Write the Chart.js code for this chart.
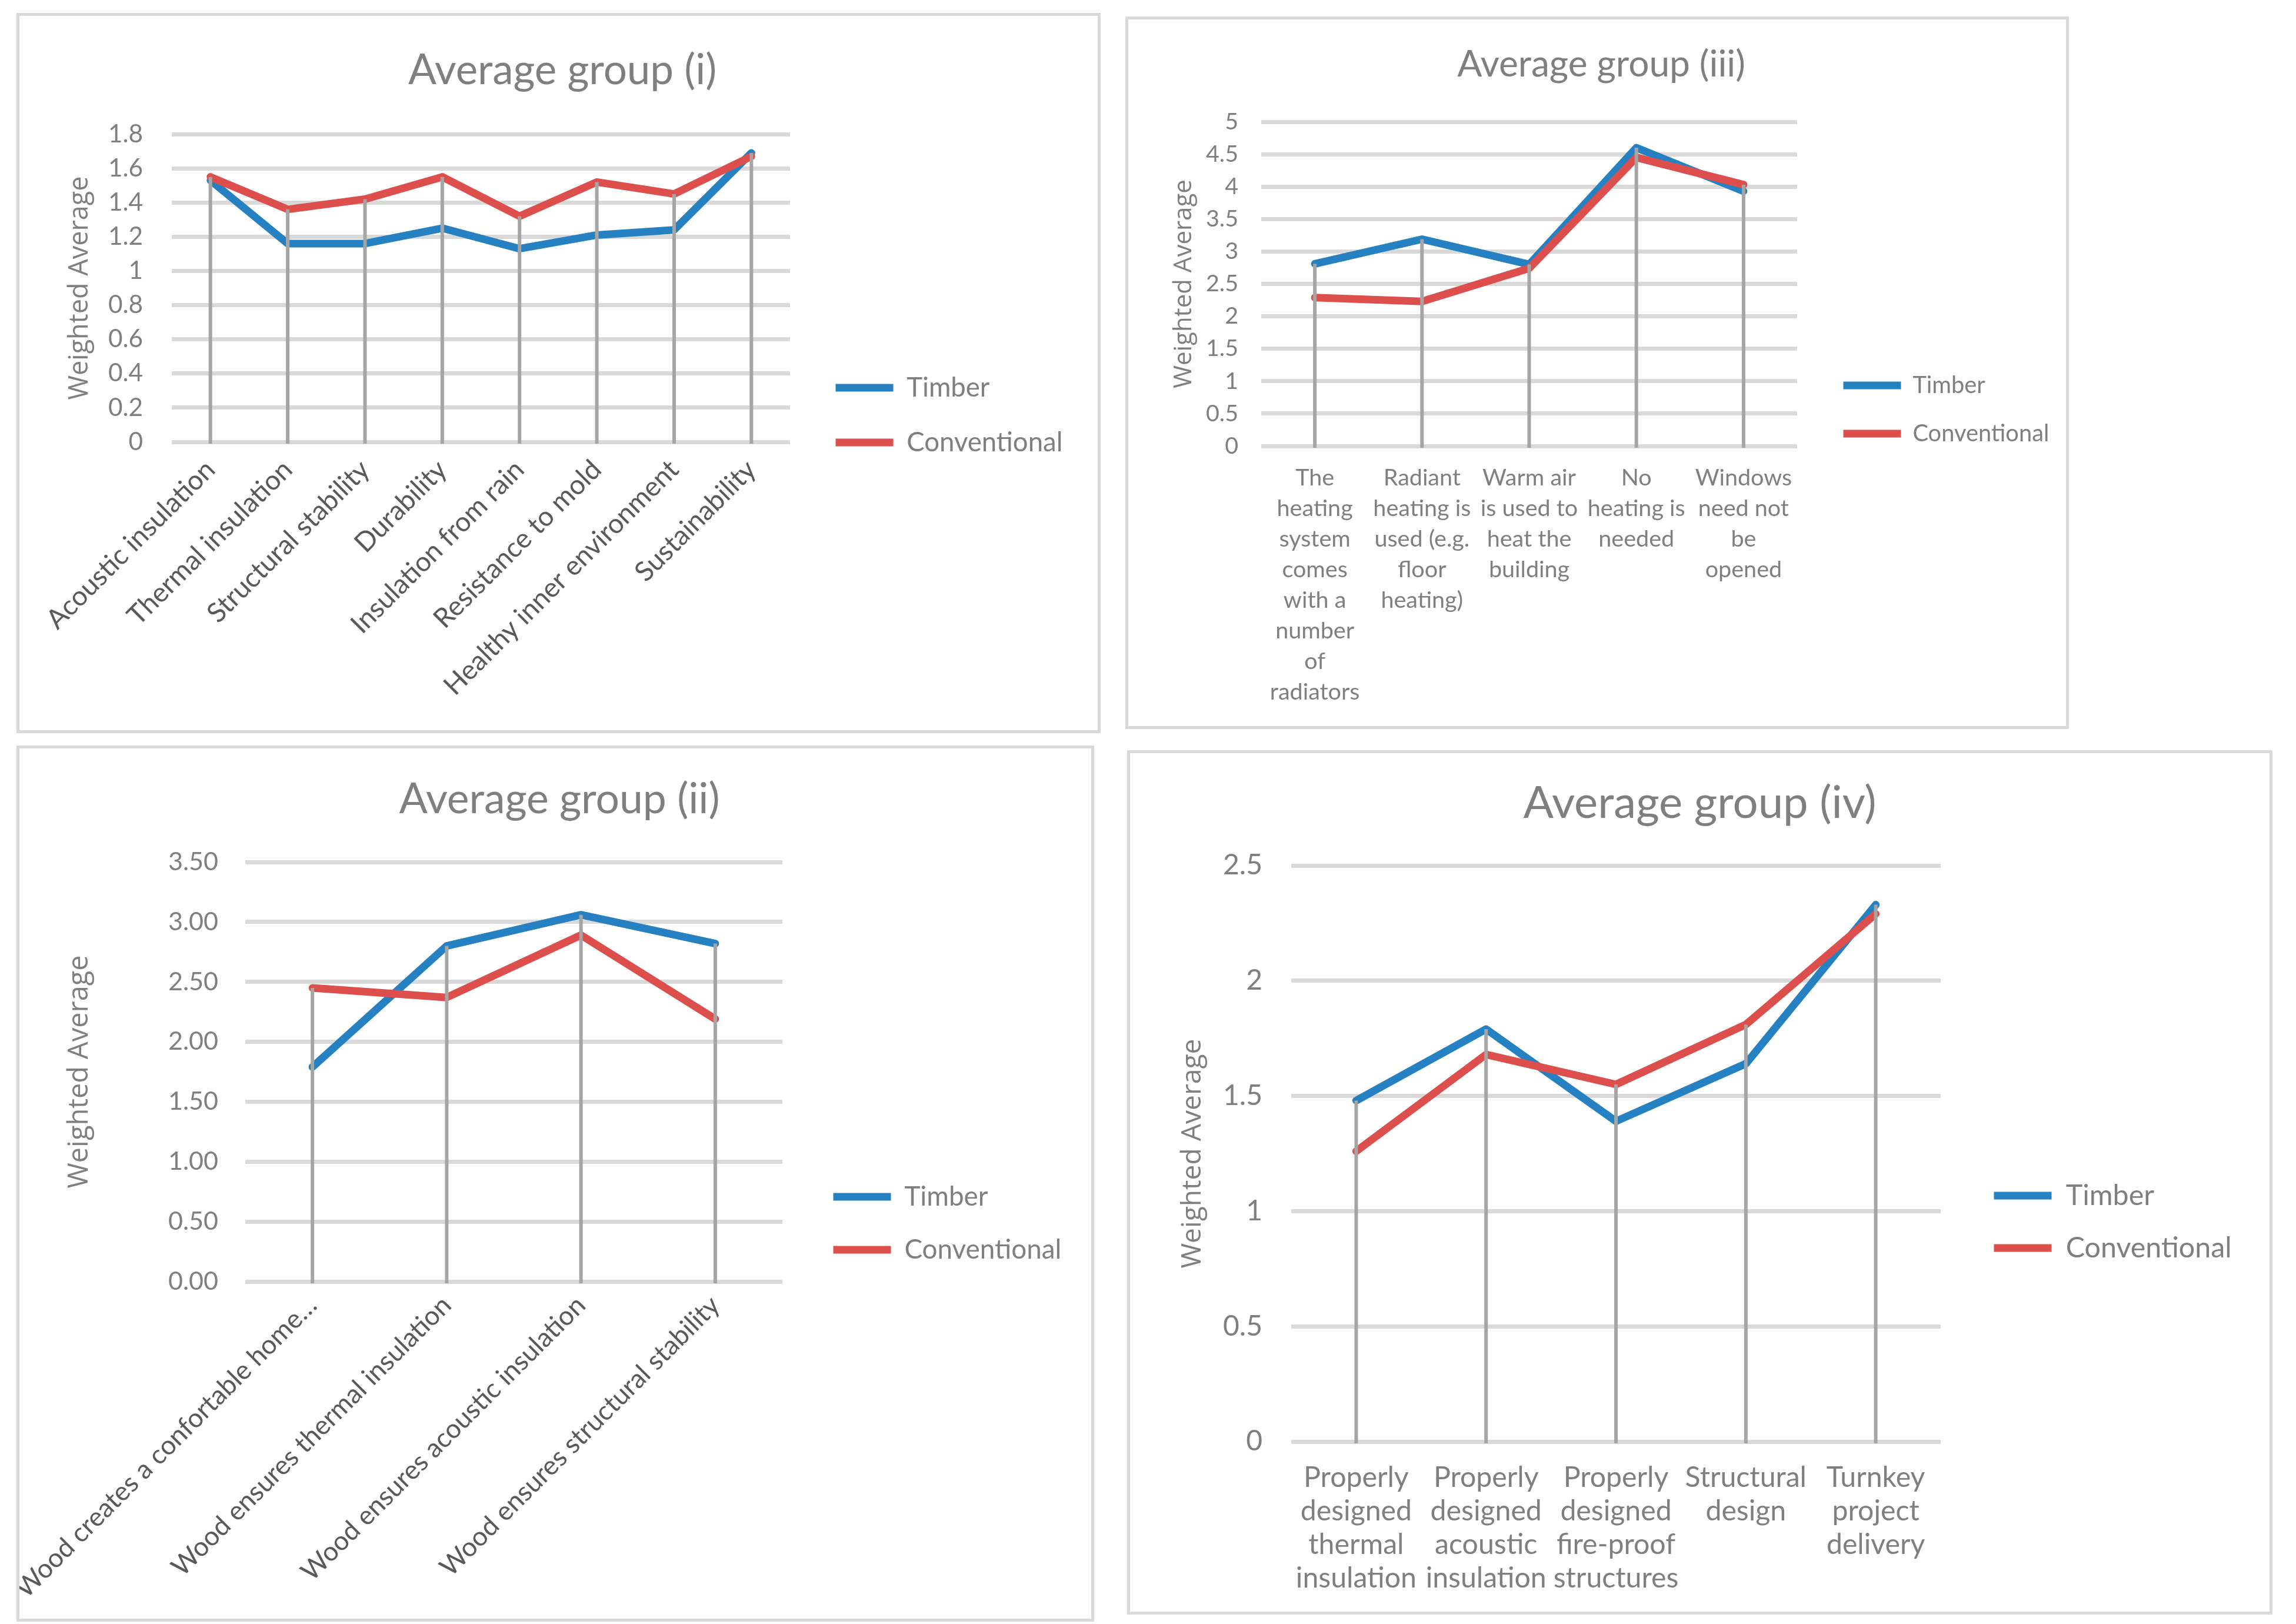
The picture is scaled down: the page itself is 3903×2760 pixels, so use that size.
<!DOCTYPE html>
<html>
<head>
<meta charset="utf-8">
<script src="https://cdn.jsdelivr.net/npm/chart.js@4.4.1/dist/chart.umd.min.js"></script>
<style>
html, body { margin: 0; padding: 0; background: #fff; }
body { width: 3903px; height: 2760px; position: relative; overflow: hidden; }
.panel { position: absolute; box-sizing: border-box; border: 5px solid #d9d9d9; background: #fff; }
.panel canvas { display: block; }
</style>
</head>
<body>
<div class="panel"><canvas id="c1"></canvas></div>
<div class="panel"><canvas id="c3"></canvas></div>
<div class="panel"><canvas id="c2"></canvas></div>
<div class="panel"><canvas id="c4"></canvas></div>
<script>
/* DATA */
const seriesNames = ['Timber', 'Conventional'];

const catsI = ['Acoustic insulation', 'Thermal insulation', 'Structural stability', 'Durability',
    'Insulation from rain', 'Resistance to mold', 'Healthy inner environment', 'Sustainability'];
const timberI = [1.53, 1.16, 1.16, 1.25, 1.13, 1.21, 1.24, 1.69];
const convI = [1.55, 1.36, 1.42, 1.55, 1.32, 1.52, 1.45, 1.67];
const ticksI = ['0', '0.2', '0.4', '0.6', '0.8', '1', '1.2', '1.4', '1.6', '1.8'];

const catsII = ['Wood creates a confortable home…', 'Wood ensures thermal insulation',
    'Wood ensures acoustic insulation', 'Wood ensures structural stability'];
const timberII = [1.79, 2.80, 3.06, 2.82];
const convII = [2.45, 2.37, 2.89, 2.19];
const ticksII = ['0.00', '0.50', '1.00', '1.50', '2.00', '2.50', '3.00', '3.50'];

const catsIII = [
    ['The', 'heating', 'system', 'comes', 'with a', 'number', 'of', 'radiators'],
    ['Radiant', 'heating is', 'used (e.g.', 'floor', 'heating)'],
    ['Warm air', 'is used to', 'heat the', 'building'],
    ['No', 'heating is', 'needed'],
    ['Windows', 'need not', 'be', 'opened']
];
const timberIII = [2.81, 3.19, 2.80, 4.60, 3.93];
const convIII = [2.29, 2.23, 2.74, 4.45, 4.03];
const ticksIII = ['0', '0.5', '1', '1.5', '2', '2.5', '3', '3.5', '4', '4.5', '5'];

const catsIV = [
    ['Properly', 'designed', 'thermal', 'insulation'],
    ['Properly', 'designed', 'acoustic', 'insulation'],
    ['Properly', 'designed', 'fire-proof', 'structures'],
    ['Structural', 'design'],
    ['Turnkey', 'project', 'delivery']
];
const timberIV = [1.48, 1.79, 1.39, 1.64, 2.33];
const convIV = [1.26, 1.68, 1.55, 1.81, 2.29];
const ticksIV = ['0', '0.5', '1', '1.5', '2', '2.5'];

/* LAYOUT (page pixels) */
const BLUE = '#2681c3';
const RED = '#dd4f4d';
const LINE = 13;
const SWATCH = 98;

const panels = [
    { canvas: 'c1', title: 'Average group (i)', labels: catsI, timber: timberI, conv: convI, ticks: ticksI,
      frame: [28, 22, 1843, 1224], plot: [292, 228, 1343, 751],
      titleX: 956, titleY: 120, titleW: 524, yTitleX: 136, yTitleW: 380,
      tickGap: 49, tickRef: '1.8', tickW: 59,
      legX: 1414, legY: 659, legGap: 93, legW: 265,
      catRef: 'Acoustic insulation', catW: 382, catColor: '#595959', rotate: 45, catPad: 20, catLH: 1.2 },
    { canvas: 'c3', title: 'Average group (iii)', labels: catsIII, timber: timberIII, conv: convIII, ticks: ticksIII,
      frame: [1913, 28, 1604, 1211], plot: [2144, 207, 3055, 758],
      titleX: 2722, titleY: 110, titleW: 490, yTitleX: 2013, yTitleW: 355,
      tickGap: 39, tickRef: '4.5', tickW: 55,
      legX: 3127, legY: 655, legGap: 82, legW: 232,
      catRef: 'heating is', catW: 166, catColor: '#7f7f7f', rotate: 0, catPad: 28, catLH: '52px' },
    { canvas: 'c2', title: 'Average group (ii)', labels: catsII, timber: timberII, conv: convII, ticks: ticksII,
      frame: [28, 1267, 1832, 1489], plot: [417, 1465, 1330, 2178],
      titleX: 951, titleY: 1359, titleW: 545, yTitleX: 136, yTitleW: 396,
      tickGap: 46, tickRef: '3.50', tickW: 85,
      legX: 1410, legY: 2034, legGap: 90, legW: 267,
      catRef: 'Wood ensures thermal insulation', catW: 650, catColor: '#595959', rotate: 45, catPad: 14, catLH: 1.2 },
    { canvas: 'c4', title: 'Average group (iv)', labels: catsIV, timber: timberIV, conv: convIV, ticks: ticksIV,
      frame: [1916, 1275, 1947, 1469], plot: [2195, 1471, 3299, 2450],
      titleX: 2887, titleY: 1365, titleW: 600, yTitleX: 2028, yTitleW: 390,
      tickGap: 49, tickRef: '2.5', tickW: 67,
      legX: 3383, legY: 2032, legGap: 89, legW: 282,
      catRef: 'insulation', catW: 205, catColor: '#7f7f7f', rotate: 0, catPad: 33, catLH: '57px' }
];

const measureCtx = document.createElement('canvas').getContext('2d');
function textWidth(text, size, family) {
    measureCtx.font = size + 'px ' + family;
    return measureCtx.measureText(text).width;
}
function fitSize(text, family, width) {
    return Math.round(1000 * width / textWidth(text, 100, family)) / 10;
}

/* DROP LINES (Excel style, from highest point down to the axis) */
const dropLines = {
    id: 'dropLines',
    afterDatasetsDraw(chart) {
        const x = chart.scales.x, y = chart.scales.y, ctx = chart.ctx;
        ctx.save();
        ctx.strokeStyle = '#a5a5a5';
        ctx.lineWidth = 6;
        chart.data.labels.forEach((lab, i) => {
            const top = Math.max(...chart.data.datasets.map(d => d.data[i]));
            const px = x.getPixelForValue(i);
            ctx.beginPath();
            ctx.moveTo(px, y.getPixelForValue(top));
            ctx.lineTo(px, y.getPixelForValue(0) + 3);
            ctx.stroke();
        });
        ctx.restore();
    }
};

function buildChart(p) {
    const [fx, fy, fw, fh] = p.frame;
    const canvas = document.getElementById(p.canvas);
    Object.assign(canvas.parentNode.style, { left: fx + 'px', top: fy + 'px', width: fw + 'px', height: fh + 'px' });
    const ox = fx + 5, oy = fy + 5, W = fw - 10, H = fh - 10;
    canvas.width = W;
    canvas.height = H;
    const plotL = p.plot[0] - ox, plotT = p.plot[1] - oy, plotR = p.plot[2] - ox, plotB = p.plot[3] - oy;

    const titleSize = fitSize(p.title, 'Lato', p.titleW);
    const titleLH = titleSize * 1.2;
    const titlePadTop = p.titleY - oy - titleLH / 2;
    const padL = Math.max(0, 2 * (p.titleX - ox) - W);

    const yTitleSize = fitSize('Weighted Average', 'Open Sans', p.yTitleW);
    const yTitlePad = p.yTitleX - ox - padL - yTitleSize * 1.2 / 2;

    const tickSize = fitSize(p.tickRef, 'Lato', p.tickW);
    const catSize = fitSize(p.catRef, 'Lato', p.catW);

    // legend: built-in, its width is padding + swatch + gap + widest text + 10
    const legSize = fitSize('Conventional', 'Lato', p.legW);
    const legPad = p.legGap - legSize;
    const legWide = Math.max(...seriesNames.map(s => textWidth(s, legSize, 'Lato')));
    const legNatural = legPad + SWATCH + legSize / 2 + legWide + 10;
    const gapL = p.legX - ox - plotR - legPad + LINE / 2;
    const gapR = Math.max(0, W - plotR - gapL - legNatural);
    const legTitle = p.legY - oy - legSize / 2 - legPad;

    const common = { borderWidth: LINE, pointRadius: 0, pointHoverRadius: 0, tension: 0,
        borderCapStyle: 'round', borderJoinStyle: 'round', fill: false };

    const spacer = (w, weight) => ({
        type: 'linear', position: 'right', display: true, weight: weight,
        grid: { display: false, drawTicks: false }, border: { display: false },
        ticks: { display: false },
        afterFit: s => { s.width = w; }
    });

    return new Chart(canvas, {
        type: 'line',
        data: {
            labels: p.labels,
            datasets: [
                { label: seriesNames[0], data: p.timber, borderColor: BLUE, backgroundColor: BLUE, order: 1, ...common },
                { label: seriesNames[1], data: p.conv, borderColor: RED, backgroundColor: RED, order: 0, ...common }
            ]
        },
        options: {
            responsive: false,
            devicePixelRatio: 1,
            animation: false,
            events: [],
            layout: { padding: { left: padL, right: 0, top: 0, bottom: 0 } },
            scales: {
                x: {
                    type: 'category',
                    offset: true,
                    grid: { display: false, drawTicks: false },
                    border: { display: false },
                    ticks: {
                        color: p.catColor,
                        font: { family: 'Lato', size: catSize, lineHeight: p.catLH },
                        padding: p.catPad,
                        autoSkip: false,
                        minRotation: p.rotate,
                        maxRotation: p.rotate
                    },
                    afterFit: s => { s.height = H - plotB; s.paddingLeft = 0; s.paddingRight = 0; }
                },
                y: {
                    type: 'linear',
                    min: 0,
                    max: +p.ticks[p.ticks.length - 1],
                    grid: { color: '#d9d9d9', lineWidth: 7, drawTicks: false },
                    border: { display: false },
                    ticks: {
                        color: '#7f7f7f',
                        font: { family: 'Lato', size: tickSize },
                        padding: p.tickGap,
                        callback: (v, i) => p.ticks[i]
                    },
                    afterBuildTicks: s => { s.ticks = p.ticks.map(t => ({ value: +t })); },
                    title: {
                        display: true,
                        text: 'Weighted Average',
                        color: '#7f7f7f',
                        font: { family: 'Open Sans', size: yTitleSize },
                        padding: { top: yTitlePad, bottom: 0 }
                    },
                    afterFit: s => { s.width = plotL - padL; s.paddingTop = 0; s.paddingBottom = 0; }
                },
                padA: spacer(gapL, 0),
                padB: spacer(gapR, 2000)
            },
            plugins: {
                tooltip: { enabled: false },
                title: {
                    display: true,
                    text: p.title,
                    color: '#7f7f7f',
                    font: { family: 'Lato', size: titleSize, weight: 'normal' },
                    padding: { top: titlePadTop, bottom: plotT - titleLH - titlePadTop }
                },
                legend: {
                    position: 'right',
                    align: 'start',
                    maxWidth: legNatural + 40,
                    title: { display: true, text: '', font: { size: 10 }, padding: { top: legTitle - 12, bottom: 0 } },
                    labels: {
                        color: '#7f7f7f',
                        font: { family: 'Lato', size: legSize },
                        usePointStyle: true,
                        pointStyle: 'line',
                        pointStyleWidth: SWATCH,
                        padding: legPad,
                        sort: (a, b) => a.datasetIndex - b.datasetIndex
                    }
                }
            }
        },
        plugins: [dropLines]
    });
}

panels.forEach(buildChart);
</script>
</body>
</html>
